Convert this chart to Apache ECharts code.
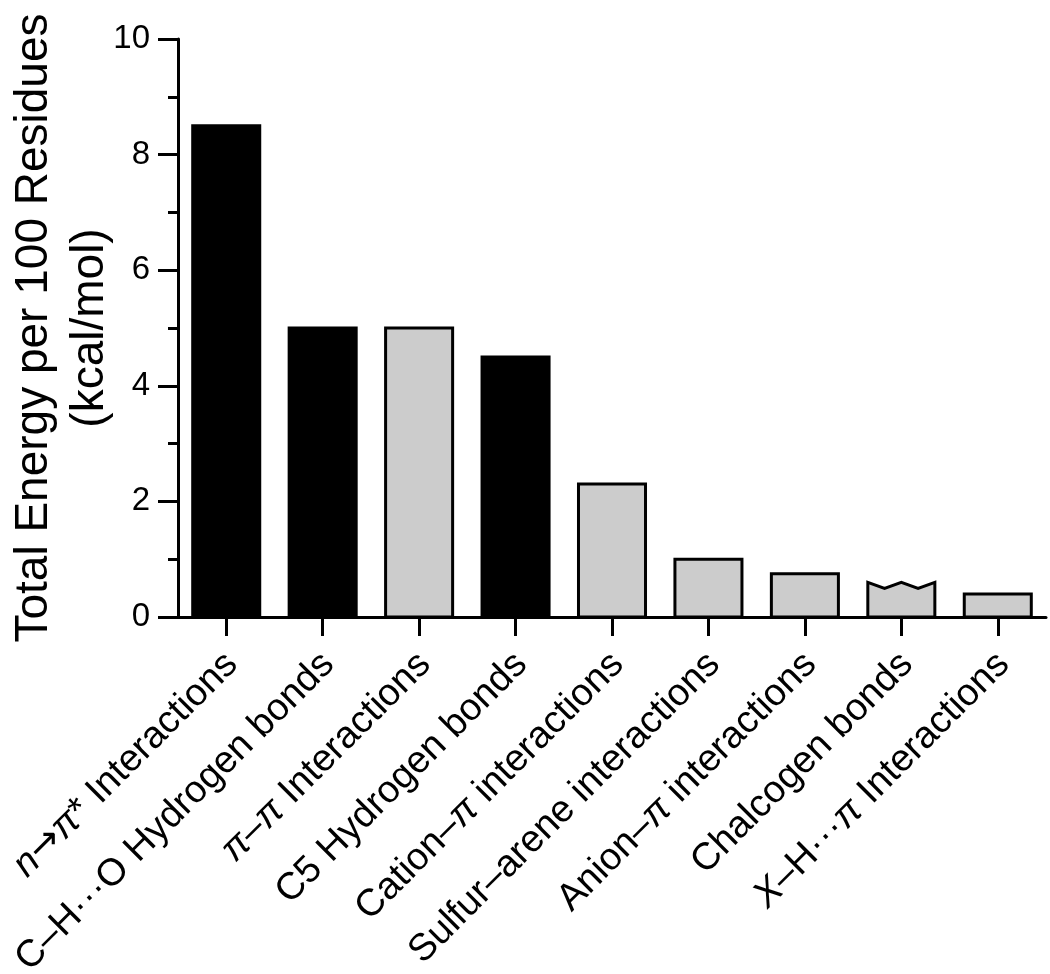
<!DOCTYPE html>
<html>
<head>
<meta charset="utf-8">
<script src="https://cdn.jsdelivr.net/npm/echarts@6/dist/echarts.min.js"></script>
<style>
html,body{margin:0;padding:0;background:#fff;}
#chart{width:1050px;height:974px;}
</style>
</head>
<body>
<div id="chart"></div>
<script>
// Category labels (rich-text markup: {it|...} = italic, {ar|...} = arrow glyph)
const categories = [
  '{it|n}{ar|→}{it|π}* Interactions',
  'C–H···O Hydrogen bonds',
  '{it|π}–{it|π} Interactions',
  'C5 Hydrogen bonds',
  'Cation–{it|π} interactions',
  'Sulfur–arene interactions',
  'Anion–{it|π} interactions',
  'Chalcogen bonds',
  '{it|X}–H···{it|π} Interactions'
];
// Total energy per 100 residues (kcal/mol)
const values = [8.5, 5.0, 5.0, 4.5, 2.3, 1.0, 0.75, 0.6, 0.4];
// Fill group: 'black' or 'grey'
const groups = ['black', 'black', 'grey', 'black', 'grey', 'grey', 'grey', 'grey', 'grey'];
// Bars drawn with a broken (zig-zag) top
const brokenTop = [false, false, false, false, false, false, false, true, false];
const yTicks = [0, 2, 4, 6, 8, 10];

const FONT = '"Liberation Sans", Arial, Helvetica, sans-serif';
const fills = { black: '#000000', grey: '#cccccc' };

const chart = echarts.init(document.getElementById('chart'), null, { renderer: 'canvas' });

const option = {
  backgroundColor: '#ffffff',
  animation: false,
  grid: { left: 178, right: 4, top: 39, bottom: 357, containLabel: false, outerBoundsMode: 'none' },
  xAxis: {
    type: 'category',
    data: categories,
    axisLine: { show: true, lineStyle: { color: '#000', width: 3 } },
    axisTick: { show: true, alignWithLabel: true, length: 19, lineStyle: { color: '#000', width: 3 } },
    axisLabel: {
      interval: 0,
      rotate: 45,
      margin: 36,
      padding: [16, 0, 0, 0],
      color: '#000',
      fontSize: 38,
      fontFamily: FONT,
      rich: {
        it: { fontStyle: 'italic', fontSize: 38, fontFamily: FONT, color: '#000' },
        ar: { fontSize: 38, fontFamily: '"DejaVu Sans", sans-serif', color: '#000' }
      }
    },
    splitLine: { show: false }
  },
  yAxis: {
    type: 'value',
    min: yTicks[0],
    max: yTicks[yTicks.length - 1],
    interval: 2,
    name: 'Total Energy per 100 Residues\n(kcal/mol)',
    nameLocation: 'middle',
    nameRotate: 90,
    nameGap: 60,
    nameMoveOverlap: false,
    nameTextStyle: { fontSize: 46, fontFamily: FONT, color: '#000', lineHeight: 56, align: 'center' },
    axisLine: { show: true, lineStyle: { color: '#000', width: 3 } },
    axisTick: { show: true, length: 20, lineStyle: { color: '#000', width: 3 } },
    minorTick: { show: true, splitNumber: 2, length: 10, lineStyle: { color: '#000', width: 3 } },
    axisLabel: { margin: 28, color: '#000', fontSize: 33, fontFamily: FONT },
    splitLine: { show: false },
    minorSplitLine: { show: false }
  },
  series: [{
    type: 'custom',
    data: values.map((v, i) => [i, v]),
    encode: { x: 0, y: 1 },
    renderItem: function (params, api) {
      const i = api.value(0);
      const v = api.value(1);
      const top = api.coord([i, v]);
      const base = api.coord([i, 0]);
      const w = api.size([1, 0])[0] * 0.695;
      const l = top[0] - w / 2, r = top[0] + w / 2;
      const fill = fills[groups[params.dataIndex]];
      const style = { fill: fill, stroke: '#000', lineWidth: 3 };
      if (brokenTop[params.dataIndex]) {
        const d = 6;
        const pts = [
          [l, base[1]], [l, top[1]], [l + w / 4, top[1] + d], [top[0], top[1]],
          [l + 3 * w / 4, top[1] + d], [r, top[1]], [r, base[1]]
        ];
        return { type: 'polygon', shape: { points: pts }, style: style };
      }
      return {
        type: 'rect',
        shape: { x: l, y: top[1], width: w, height: base[1] - top[1] },
        style: style
      };
    },
    z: 1
  }]
};

chart.setOption(option);
</script>
</body>
</html>
